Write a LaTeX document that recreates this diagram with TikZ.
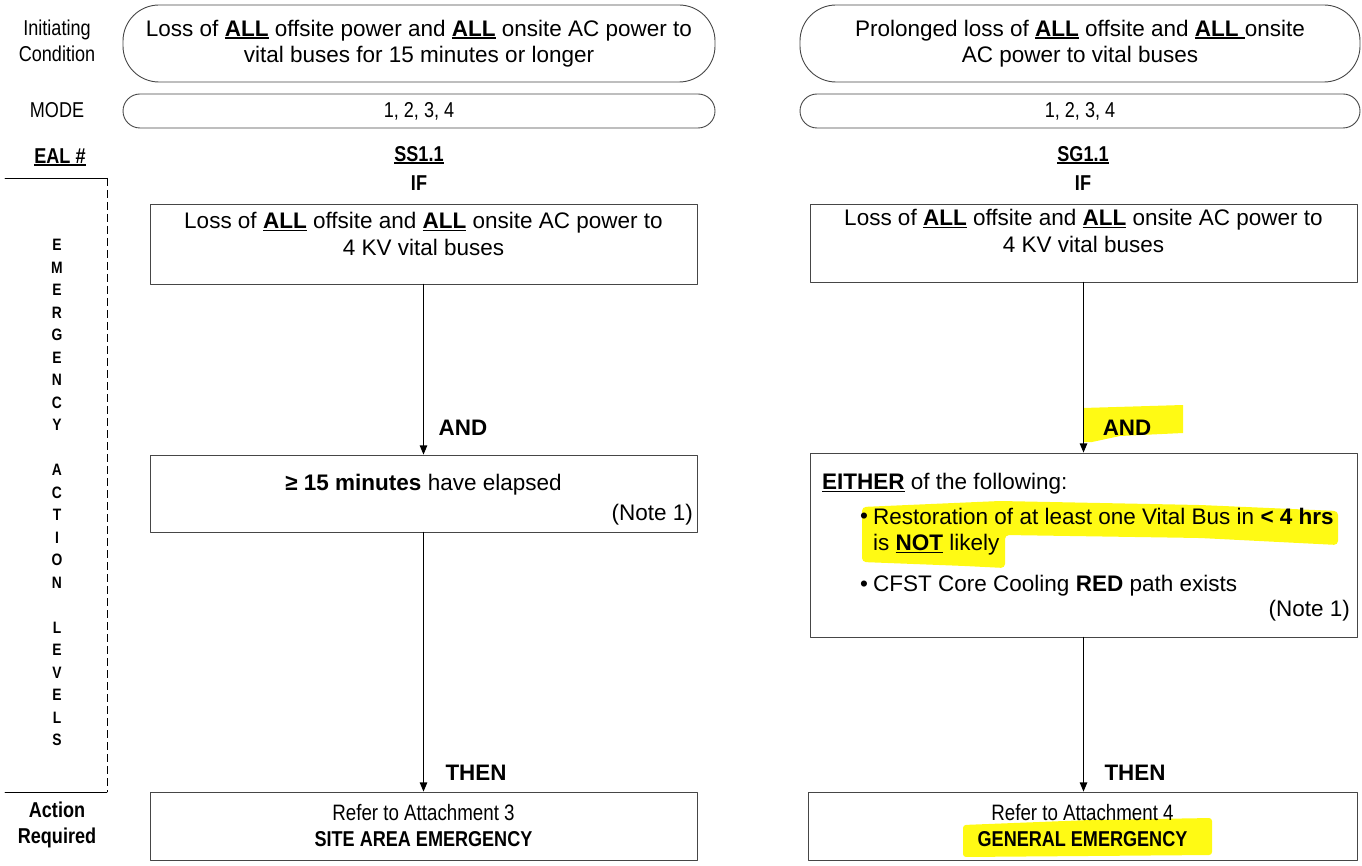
\documentclass[tikz,border=0pt]{standalone}
\usepackage{fontspec}
\setmainfont{Liberation Sans}
\newfontfamily\narrow[FakeStretch=0.84]{Liberation Sans}
\usepackage{tikz}
\usetikzlibrary{arrows}

\definecolor{frame}{RGB}{70,70,70}
\definecolor{hilite}{RGB}{255,250,20}

\newsavebox\ulbox
\newcommand{\ulbf}[1]{\sbox\ulbox{\bfseries #1}\rlap{\rule[-2.6pt]{\wd\ulbox}{1.6pt}}\usebox\ulbox}

\tikzset{
	icbox/.style={draw=frame,line width=0.9pt,rounded corners=36pt,minimum width=592pt,minimum height=77pt},
	modebox/.style={draw=frame,line width=0.9pt,rounded corners=17pt,minimum width=592pt,minimum height=34pt},
	ealbox/.style={draw=frame,line width=0.9pt,minimum width=547pt},
	txt/.style={align=center,font=\fontsize{22.5}{26.5}\selectfont},
	andlbl/.style={font=\bfseries\fontsize{22.4}{26}\selectfont},
	slbl/.style={align=center,font=\narrow\fontsize{21.5}{26}\selectfont},
	sbold/.style={align=center,font=\narrow\bfseries\fontsize{21.5}{26}\selectfont},
	conn/.style={->,line width=1.1pt},
}

\begin{document}
\begin{tikzpicture}[line cap=round,line join=round,>=triangle 45,x=1pt,y=-1pt]
	\useasboundingbox (0,0) rectangle (1362,866);
	% highlighter marks
	\fill[hilite] (1083,408) -- (1183,405) -- (1183,433) -- (1120,436) -- (1092,442) -- (1083,442) -- cycle;
	\fill[hilite,rounded corners=4pt] (862,507) -- (1000,501) -- (1200,505) -- (1338,511) -- (1338,545) -- (1200,538) -- (1005,535) -- (1005,568) -- (965,566) -- (862,562) -- cycle;
	\fill[hilite,rounded corners=3pt] (963,825) -- (1090,820) -- (1212,818) -- (1212,855) -- (963,857) -- cycle;

	% left column
	\node[slbl] (initc) at (57,41) {Initiating\\Condition};
	\node[slbl] (modelbl) at (57,110) {MODE};
	\node[sbold] (eallbl) at (60,157) {\ulbf{EAL \#}};
	\node[align=center,font=\narrow\bfseries\fontsize{16.5}{22.5}\selectfont] (levels) at (57,492.5)
		{E\\M\\E\\R\\G\\E\\N\\C\\Y\\[22.5pt]A\\C\\T\\I\\O\\N\\[22.5pt]L\\E\\V\\E\\L\\S};
	\node[sbold] (actreq) at (57,825) {Action\\Required};
	\draw[line width=0.9pt] (5,178) -- (107,178);
	\draw[line width=0.9pt,dash pattern=on 8pt off 4pt,line cap=butt] (107,178) -- (107,792);
	\draw[line width=0.9pt] (5,792) -- (107,792);

	% initiating condition and mode
	\node[icbox,txt] (icL) at (419,43.5) {Loss of \ulbf{ALL} offsite power and \ulbf{ALL} onsite AC power to\\vital buses for 15 minutes or longer};
	\node[icbox,txt,minimum width=560pt] (icR) at (1080,43.5) {Prolonged loss of \ulbf{ALL} offsite and \ulbf{ALL\ }onsite\\AC power to vital buses};
	\node[modebox,slbl] (modeL) at (419,111) {1, 2, 3, 4};
	\node[modebox,slbl,minimum width=560pt] (modeR) at (1080,111) {1, 2, 3, 4};

	% SS1.1
	\node[sbold] (ss) at (419,155) {\ulbf{SS1.1}};
	\node[sbold] (ifL) at (419,183) {IF};
	\node[ealbox,minimum height=80pt] (condL) at (423.5,244) {};
	\node[txt] (condLt) at (423.5,234) {Loss of \ulbf{ALL} offsite and \ulbf{ALL} onsite AC power to\\4 KV vital buses};
	\node[andlbl] (andL) at (463,428) {AND};
	\node[ealbox,minimum height=77pt] (timeL) at (423.5,493.5) {};
	\node[txt] (timeLt) at (423.5,485) {\textbf{≥ 15 minutes} have elapsed};
	\node[txt,anchor=east,inner sep=0pt] (noteL) at (693,515) {(Note 1)};
	\node[andlbl] (thenL) at (476,773) {THEN};
	\node[ealbox,slbl,minimum height=68pt] (actL) at (423.5,826) {{\fontsize{22.3}{26}\selectfont Refer to Attachment 3}\\\textbf{SITE AREA EMERGENCY}};

	% SG1.1
	\node[sbold] (sg) at (1083,155) {\ulbf{SG1.1}};
	\node[sbold] (ifR) at (1083,183) {IF};
	\node[ealbox,minimum height=78pt] (condR) at (1083.5,243) {};
	\node[txt] (condRt) at (1083.5,231) {Loss of \ulbf{ALL} offsite and \ulbf{ALL} onsite AC power to\\4 KV vital buses};
	\node[andlbl] (andR) at (1127,428) {AND};
	\node[ealbox,minimum height=184pt] (eitherR) at (1083.5,545) {};
	\node[txt,anchor=west,inner sep=0pt] (eithert) at (822,484) {\ulbf{EITHER} of the following:};
	\node[txt,inner sep=0pt] (bulA) at (864,518) {•};
	\node[txt,anchor=west,align=left,inner sep=0pt] (itemA) at (873,531.5) {Restoration of at least one Vital Bus in \textbf{< 4 hrs}\\is \ulbf{NOT} likely};
	\node[txt,inner sep=0pt] (bulB) at (864,586) {•};
	\node[txt,anchor=west,inner sep=0pt] (itemB) at (873,586) {CFST Core Cooling \textbf{RED} path exists};
	\node[txt,anchor=east,inner sep=0pt] (noteR) at (1350,611) {(Note 1)};
	\node[andlbl] (thenR) at (1135,773) {THEN};
	\node[ealbox,slbl,minimum height=68pt,minimum width=549pt] (actR) at (1082.5,826) {{\fontsize{22.3}{26}\selectfont Refer to Attachment 4}\\\textbf{GENERAL EMERGENCY}};

	% connectors
	\draw[conn] (condL) -- (timeL);
	\draw[conn] (timeL) -- (actL);
	\draw[conn] (condR) -- (eitherR);
	\draw[conn] (eitherR.south) -- (eitherR.south |- actR.north);
\end{tikzpicture}
\end{document}
